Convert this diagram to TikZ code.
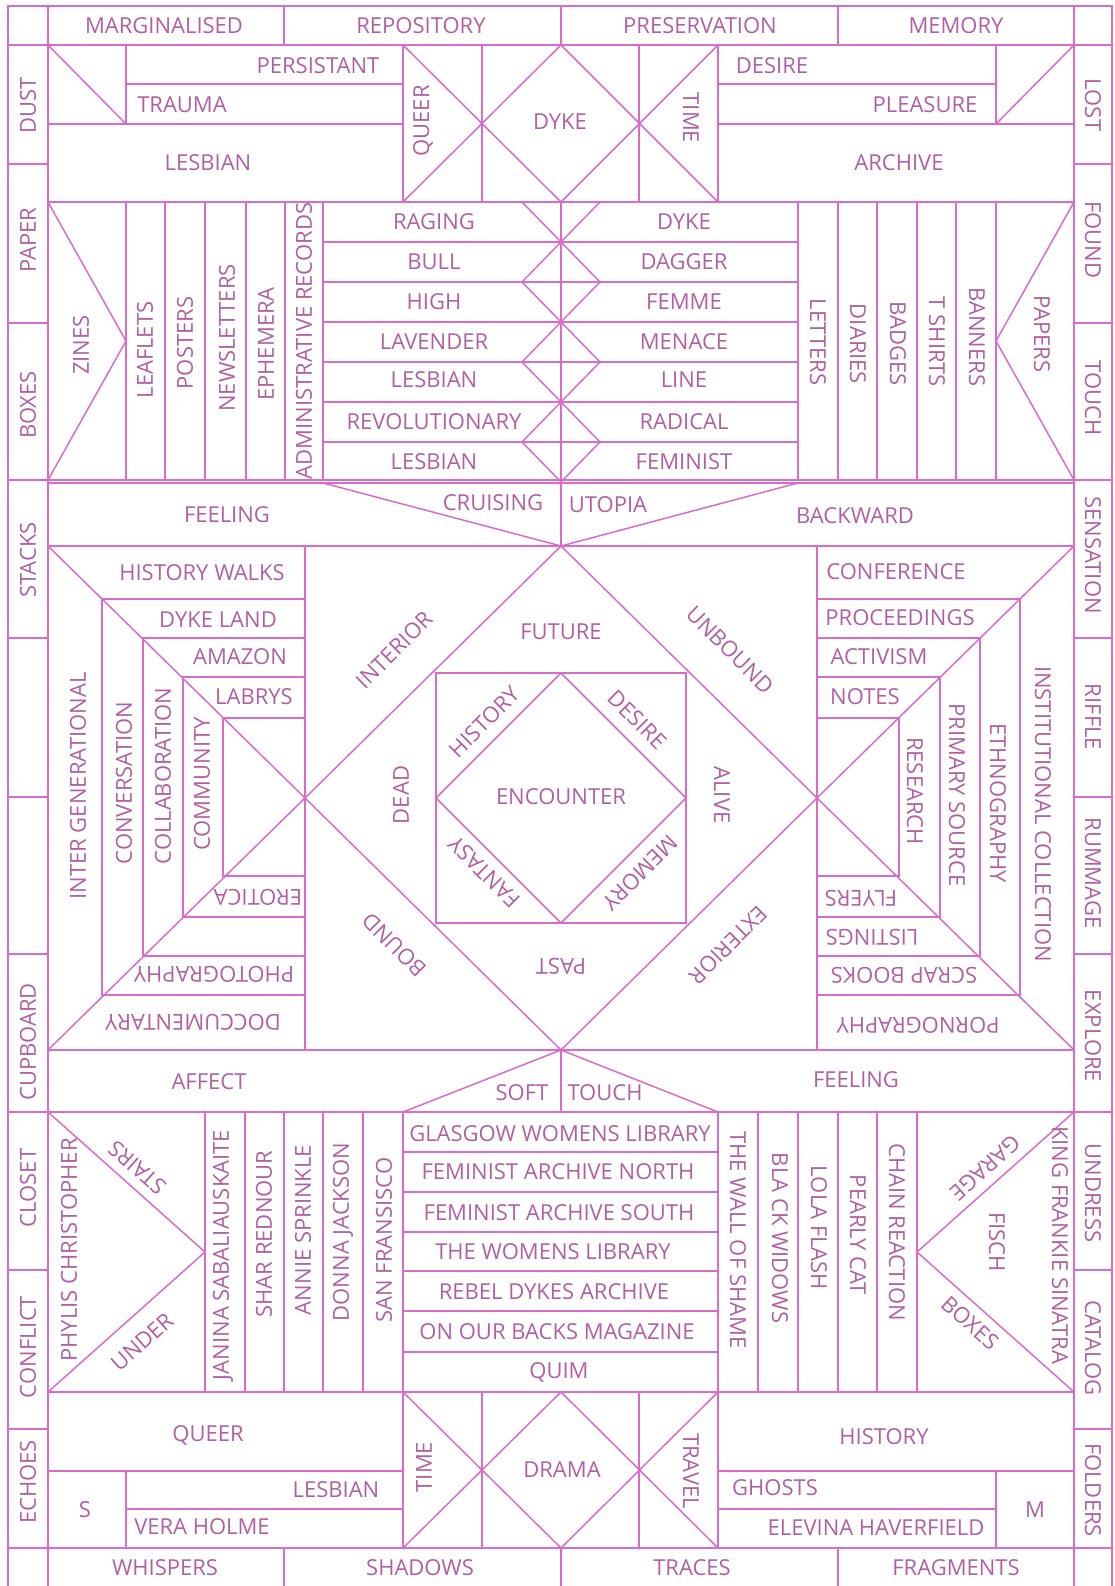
\documentclass[tikz,border=0pt]{standalone}
\usepackage{fontspec}
\setmainfont{Open Sans}
\definecolor{rose}{RGB}{216,108,202}
\definecolor{rosetext}{RGB}{176,96,160}
\newcommand\labfont{\fontsize{22}{22}\selectfont}
\tikzset{
  rule/.style={draw=rose, line width=1.5pt},
  lab/.style={text=rosetext, font=\labfont, inner sep=0pt},
  labup/.style={lab, rotate=90},
  labdown/.style={lab, rotate=-90},
  labflip/.style={lab, rotate=180},
}

\begin{document}
\begin{tikzpicture}[x=1pt, y=-1pt]
  \useasboundingbox (0,0) rectangle (1114,1586);

  % Frame and margin strips
  \draw[rule] (8,1590) -- (8,6) -- (1112,6) -- (1112,1590);
  \draw[rule] (48,6) -- (48,1590) (1074,6) -- (1074,1590);
  \draw[rule] (8,45) -- (1112,45) (8,1548) -- (1112,1548);
  \foreach \y in {164,323,480,638,797,954,1112,1270,1429} {
    \draw[rule] (8,\y) -- (48,\y);
    \draw[rule] (1074,\y) -- (1112,\y);
  }
  \foreach \x in {284,561,838} {
    \draw[rule] (\x,6) -- (\x,45);
    \draw[rule] (\x,1548) -- (\x,1590);
  }

  % Long cross rules
  \foreach \y in {202,480,483,546,1050,1112,1392} \draw[rule] (48,\y) -- (1074,\y);

  % Top band
  \draw[rule] (48,124) -- (403,124) (718,124) -- (1074,124);
  \draw[rule] (126,84) -- (403,84) (718,84) -- (996,84);
  \draw[rule] (126,45) -- (126,124) (996,45) -- (996,124);
  \draw[rule] (48,45) -- (126,124) (1074,45) -- (996,124);
  \foreach \x in {403,482,639,718} \draw[rule] (\x,45) -- (\x,202);
  \draw[rule] (403,45) -- (561,202) -- (718,45) (403,202) -- (561,45) -- (718,202);

  % Bottom band
  \draw[rule] (48,1471) -- (403,1471) (718,1471) -- (1074,1471);
  \draw[rule] (126,1509) -- (403,1509) (718,1509) -- (996,1509);
  \draw[rule] (126,1471) -- (126,1548) (996,1471) -- (996,1548);
  \foreach \x in {403,482,639,718} \draw[rule] (\x,1392) -- (\x,1548);
  \draw[rule] (403,1392) -- (561,1548) -- (718,1392) (403,1548) -- (561,1392) -- (718,1548);

  % Upper stacks
  \foreach \x in {126,165,205,246,285,323,798,838,877,917,956,996} \draw[rule] (\x,202) -- (\x,480);
  \draw[rule] (48,202) -- (126,341) -- (48,480) (1074,202) -- (996,341) -- (1074,480);
  \foreach \y in {242,282,...,442} \draw[rule] (323,\y) -- (798,\y);
  \draw[rule] (561,202) -- (561,480);
  \draw[rule] (522,202) -- (561,242) -- (600,202);
  \foreach \y in {242,322,402}
    \draw[rule] (561,\y) -- (522,{\y+40}) -- (561,{\y+80}) -- (600,{\y+40}) -- cycle;

  % Feeling band
  \draw[rule] (561,483) -- (561,546);
  \draw[rule] (323,483) -- (561,546) -- (798,483);

  % Centre field
  \draw[rule] (305,546) -- (305,1050) (817,546) -- (817,1050);
  \draw[rule] (48,546) -- (305,798) -- (48,1050) (1074,546) -- (817,798) -- (1074,1050);
  \draw[rule] (561,546) -- (305,798) -- (561,1050) -- (817,798) -- cycle;
  \draw[rule] (436,673) rectangle (686,923);
  \draw[rule] (561,673) -- (436,798) -- (561,923) -- (686,798) -- cycle;
  \foreach \xl/\xr/\t/\b in {102/1020/599/995, 143/980/638/956, 183/940/677/917, 223/899/718/876} {
    \draw[rule] (\xl,\t) rectangle (305,\b);
    \draw[rule] (817,\t) rectangle (\xr,\b);
  }

  % Affect band
  \draw[rule] (561,1050) -- (561,1112);
  \draw[rule] (403,1112) -- (561,1050) -- (718,1112);

  % Lower stacks
  \foreach \x in {205,245,284,323,363,403,718,758,798,838,877,917} \draw[rule] (\x,1112) -- (\x,1392);
  \draw[rule] (48,1112) -- (205,1252) -- (48,1392) (1074,1112) -- (917,1252) -- (1074,1392);
  \foreach \y in {1152,1192,1232,1271,1311,1352} \draw[rule] (403,\y) -- (718,\y);

  % Margin words
  \foreach \y/\t [count=\i] in {105/DUST,240/PAPER,405/BOXES,560/STACKS,1042/CUPBOARD,1188/CLOSET,1347/CONFLICT,1482/ECHOES}
    \node[labup] (west\i) at (28,\y) {\t};
  \foreach \y/\t [count=\i] in {105/LOST,240/FOUND,398/TOUCH,555/SENSATION,717/RIFFLE,873/RUMMAGE,1036/EXPLORE,1193/UNDRESS,1348/CATALOG,1490/FOLDERS}
    \node[labdown] (east\i) at (1093,\y) {\t};
  \foreach \x/\t [count=\i] in {164/MARGINALISED,421/REPOSITORY,700/PRESERVATION,956/MEMORY}
    \node[lab] (north\i) at (\x,26) {\t};
  \foreach \x/\t [count=\i] in {165/WHISPERS,420/SHADOWS,692/TRACES,956/FRAGMENTS}
    \node[lab] (south\i) at (\x,1568) {\t};

  % Top band words
  \node[lab] (persist) at (318,66) {PERSISTANT};
  \node[lab] (trauma) at (182,105) {TRAUMA};
  \node[lab] (lesTop) at (208,163) {LESBIAN};
  \node[labup] (queerTop) at (423,121) {QUEER};
  \node[lab] (dykeTop) at (560,122) {DYKE};
  \node[labdown] (timeTop) at (691,118) {TIME};
  \node[lab] (desireTop) at (772,66) {DESIRE};
  \node[lab] (pleasure) at (925,105) {PLEASURE};
  \node[lab] (archive) at (899,163) {ARCHIVE};

  % Upper stacks words
  \foreach \y/\l/\r [count=\i] in {222/RAGING/DYKE,262/BULL/DAGGER,302/HIGH/FEMME,342/LAVENDER/MENACE,380/LESBIAN/LINE,422/REVOLUTIONARY/RADICAL,462/LESBIAN/FEMINIST} {
    \node[lab] (pairL\i) at (434,\y) {\l};
    \node[lab] (pairR\i) at (684,\y) {\r};
  }
  \foreach \x/\y/\t [count=\i] in {81/345/ZINES,145/350/LEAFLETS,185/343/POSTERS,227/338/NEWSLETTERS,266/344/EPHEMERA,304/341/ADMINISTRATIVE RECORDS}
    \node[labup] (paperL\i) at (\x,\y) {\t};
  \foreach \x/\y/\t [count=\i] in {818/342/LETTERS,858/344/DIARIES,898/344/BADGES,937/342/T SHIRTS,977/337/BANNERS,1042/334/PAPERS}
    \node[labdown] (paperR\i) at (\x,\y) {\t};

  % Feeling band words
  \node[lab] (feelTop) at (227,515) {FEELING};
  \node[lab] (cruising) at (493,503) {CRUISING};
  \node[lab] (utopia) at (608,505) {UTOPIA};
  \node[lab] (backward) at (855,516) {BACKWARD};

  % Centre field words
  \foreach \x/\y/\t [count=\i] in {202/573/HISTORY WALKS,218/620/DYKE LAND,240/657/AMAZON,254/697/LABRYS}
    \node[lab] (walkL\i) at (\x,\y) {\t};
  \foreach \x/\y/\t [count=\i] in {258/897/EROTICA,214/974/PHOTOGRAPHY,193/1022/DOCCUMENTARY}
    \node[labflip] (walkLo\i) at (\x,\y) {\t};
  \foreach \x/\y/\t [count=\i] in {78/786/INTER GENERATIONAL,124/783/CONVERSATION,163/776/COLLABORATION,202/784/COMMUNITY}
    \node[labup] (bandL\i) at (\x,\y) {\t};
  \foreach \x/\y/\t [count=\i] in {896/572/CONFERENCE,900/618/PROCEEDINGS,879/657/ACTIVISM,865/697/NOTES}
    \node[lab] (walkR\i) at (\x,\y) {\t};
  \foreach \x/\y/\t [count=\i] in {861/898/FLYERS,872/937/LISTINGS,904/975/SCRAP BOOKS,918/1025/PORNOGRAPHY}
    \node[labflip] (walkRo\i) at (\x,\y) {\t};
  \foreach \x/\y/\t [count=\i] in {1043/814/INSTITUTIONAL COLLECTION,998/803/ETHNOGRAPHY,957/795/PRIMARY SOURCE,915/791/RESEARCH}
    \node[labdown] (bandR\i) at (\x,\y) {\t};

  \node[lab] (future) at (561,632) {FUTURE};
  \node[labflip] (past) at (561,966) {PAST};
  \node[labup] (dead) at (401,795) {DEAD};
  \node[labdown] (alive) at (722,795) {ALIVE};
  \node[lab] (encounter) at (561,797) {ENCOUNTER};
  \node[lab, rotate=45] (history) at (484,722) {HISTORY};
  \node[lab, rotate=-45] (desire) at (637,720) {DESIRE};
  \node[lab, rotate=135] (fantasy) at (484,872) {FANTASY};
  \node[lab, rotate=225] (memory) at (640,873) {MEMORY};
  \node[lab, rotate=45] (interior) at (394,650) {INTERIOR};
  \node[lab, rotate=-45] (unbound) at (730,650) {UNBOUND};
  \node[lab, rotate=135] (bound) at (394,945) {BOUND};
  \node[lab, rotate=225] (exterior) at (728,945) {EXTERIOR};

  % Affect band words
  \node[lab] (affect) at (209,1082) {AFFECT};
  \node[lab] (soft) at (522,1093) {SOFT};
  \node[lab] (touch) at (605,1093) {TOUCH};
  \node[lab] (feelLow) at (856,1080) {FEELING};

  % Lower stacks words
  \foreach \x/\y/\t [count=\i] in {560/1134/GLASGOW WOMENS LIBRARY,558/1172/FEMINIST ARCHIVE NORTH,559/1213/FEMINIST ARCHIVE SOUTH,553/1252/THE WOMENS LIBRARY,554/1292/REBEL DYKES ARCHIVE,557/1332/ON OUR BACKS MAGAZINE,559/1372/QUIM}
    \node[lab] (shelf\i) at (\x,\y) {\t};
  \foreach \x/\y/\t [count=\i] in {69/1250/PHYLIS CHRISTOPHER,223/1255/JANINA SABALIAUSKAITE,264/1234/SHAR REDNOUR,303/1230/ANNIE SPRINKLE,343/1232/DONNA JACKSON,384/1240/SAN FRANSISCO}
    \node[labup] (nameL\i) at (\x,\y) {\t};
  \foreach \x/\y/\t [count=\i] in {738/1240/THE WALL OF SHAME,780/1238/BLA CK WIDOWS,819/1228/LOLA FLASH,858/1235/PEARLY CAT,897/1232/CHAIN REACTION,997/1242/FISCH,1060/1245/KING FRANKIE SINATRA}
    \node[labdown] (nameR\i) at (\x,\y) {\t};
  \node[lab, rotate=138.3] (stairs) at (137,1168) {STAIRS};
  \node[lab, rotate=41.7] (under) at (142,1342) {UNDER};
  \node[lab, rotate=221.7] (garage) at (985,1168) {GARAGE};
  \node[lab, rotate=-41.7] (boxes) at (970,1323) {BOXES};

  % Bottom band words
  \node[lab] (queerLow) at (208,1435) {QUEER};
  \node[lab] (lesLow) at (336,1490) {LESBIAN};
  \node[lab] (vera) at (202,1527) {VERA HOLME};
  \node[lab] (sBox) at (85,1510) {S};
  \node[labup] (timeLow) at (424,1467) {TIME};
  \node[lab] (drama) at (562,1470) {DRAMA};
  \node[labdown] (travel) at (691,1471) {TRAVEL};
  \node[lab] (histLow) at (884,1437) {HISTORY};
  \node[lab] (ghosts) at (775,1488) {GHOSTS};
  \node[lab] (elevina) at (876,1528) {ELEVINA HAVERFIELD};
  \node[lab] (mBox) at (1035,1510) {M};
\end{tikzpicture}
\end{document}
